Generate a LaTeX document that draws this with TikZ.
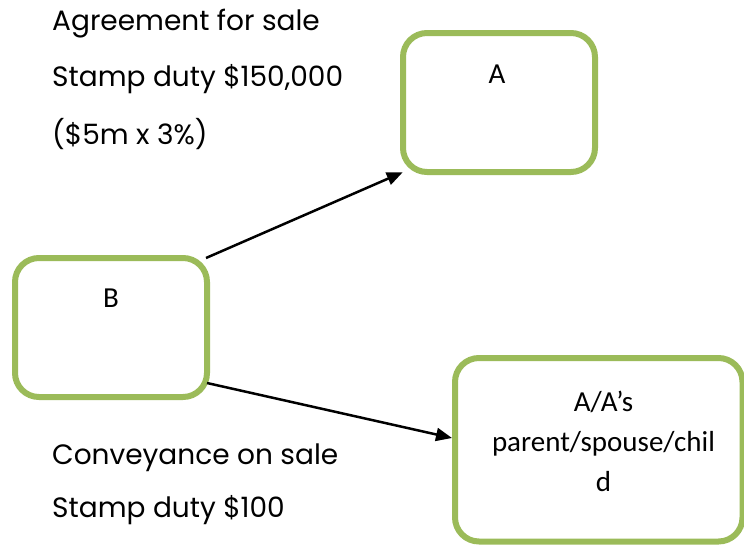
\documentclass[tikz,border=0pt]{standalone}
\usepackage{fontspec}
\setmainfont{Poppins}
\newfontfamily\boxfont{Carlito}
\usetikzlibrary{arrows.meta}
\definecolor{boxgreen}{HTML}{9BBB59}
\tikzset{
  party/.style={draw=boxgreen, line width=6pt, rounded corners=24pt, fill=white},
  partylabel/.style={font=\boxfont\fontsize{29}{40}\selectfont, align=center, anchor=center},
  note/.style={font=\fontsize{28}{30}\selectfont, anchor=west, inner sep=0pt},
  flow/.style={line width=2.5pt, -{Triangle[length=16pt,width=13pt]}}
}
\begin{document}
\begin{tikzpicture}[x=1pt,y=-1pt]
\useasboundingbox (0,0) rectangle (744,544);
\begin{scope}
\clip (0,0) rectangle (744,544);
% parties
\draw[party] (403,33) rectangle (595,172);
\draw[party] (15,258) rectangle (207,397);
\draw[party] (455,358) rectangle (742.5,541.5);
\end{scope}
\node (A) [minimum width=192pt, minimum height=139pt] at (499,102.5) {};
\node (B) [minimum width=192pt, minimum height=139pt] at (111,327.5) {};
\node (C) [minimum width=287pt, minimum height=183pt] at (599,450) {};
\node[partylabel] (Alab) at (497,74) {A};
\node[partylabel] (Blab) at (111,298) {B};
\node[partylabel] (Clab) at (603.5,441) {A/A’s\\parent/spouse/chil\\d};
% notes
\node[note] (n1) at (52,24) {Agreement for sale};
\node[note] (n2) at (52,79) {Stamp duty \$150,000};
\node[note] (n3) at (52,134) {(\$5m x 3\%)};
\node[note] (n4) at (52,458) {Conveyance on sale};
\node[note] (n5) at (52,510) {Stamp duty \$100};
% transfers
\coordinate (b1) at (206,258);
\coordinate (b2) at (207,383);
\draw[flow] (b1) -- (A.south west);
\draw[flow] (b2) -- (452,438) coordinate (c1);
\end{tikzpicture}
\end{document}
